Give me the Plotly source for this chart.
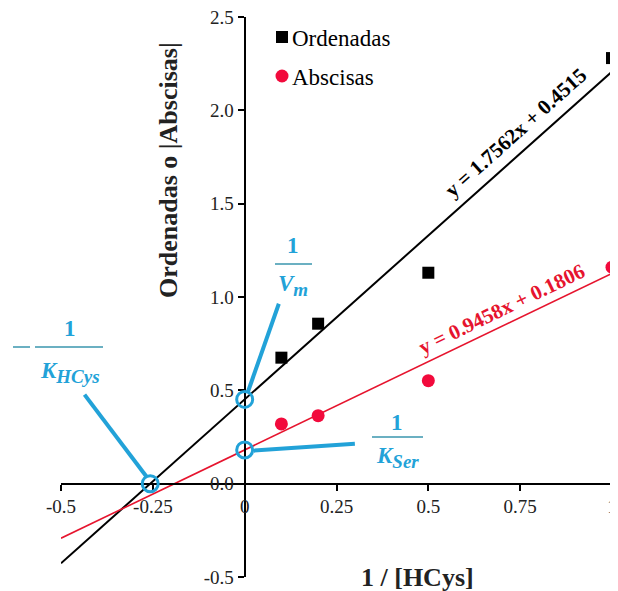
import plotly.graph_objects as go

# ---- data ----
x_vals = [0.1, 0.2, 0.5, 1.0]
ordenadas = [0.675, 0.857, 1.13, 2.28]
abscisas = [0.32, 0.364, 0.552, 1.16]
slope_ord, int_ord = 1.7562, 0.4515
slope_abs, int_abs = 0.9458, 0.1806
x_fit = [-0.5, 1.0]
x_ticks = [-0.5, -0.25, 0, 0.25, 0.5, 0.75, 1]
x_tick_text = ["-0.5", "-0.25", "0", "0.25", "0.5", "0.75", "1"]
y_ticks = [-0.5, 0.0, 0.5, 1.0, 1.5, 2.0, 2.5]
y_tick_text = ["-0.5", "0.0", "0.5", "1.0", "1.5", "2.0", "2.5"]

BLUE = "#22A2D8"
BAR = "#3A96AE"
RED = "#F20A3C"
REDL = "#E6142E"
SERIF = "Liberation Serif"

OFF = 8  # page body margin
W, H = 618, 591
ML, MR, MT, MB = 53, 14, 9, 22

fig = go.Figure()

fig.add_trace(go.Scatter(x=x_fit, y=[slope_ord * v + int_ord for v in x_fit], mode="lines",
                         line=dict(color="black", width=2), showlegend=False, hoverinfo="skip"))
fig.add_trace(go.Scatter(x=x_fit, y=[slope_abs * v + int_abs for v in x_fit], mode="lines",
                         line=dict(color=REDL, width=1.6), showlegend=False, hoverinfo="skip"))
fig.add_trace(go.Scatter(x=x_vals, y=ordenadas, mode="markers", name="Ordenadas",
                         marker=dict(symbol="square", size=12, color="black"), cliponaxis=False,
                         showlegend=False))
fig.add_trace(go.Scatter(x=x_vals, y=abscisas, mode="markers", name="Abscisas",
                         marker=dict(symbol="circle", size=13, color=RED), cliponaxis=False,
                         showlegend=False))

shapes = []
annotations = []

# intercept circles
x_int = -int_ord / slope_ord
for cx, cy in [(0, int_ord), (0, int_abs), (x_int, 0)]:
    shapes.append(dict(type="circle", xref="x", yref="y", xsizemode="pixel", ysizemode="pixel",
                       xanchor=cx, yanchor=cy, x0=-8, x1=8, y0=-8, y1=8,
                       line=dict(color=BLUE, width=3)))

# callout lines
for (x0, y0, x1, y1) in [(0.008, 0.487, 0.093, 0.964),
                         (0.025, 0.177, 0.30, 0.214),
                         (-0.267, 0.037, -0.436, 0.477)]:
    shapes.append(dict(type="line", xref="x", yref="y", x0=x0, y0=y0, x1=x1, y1=y1,
                       line=dict(color=BLUE, width=4)))

def px(xp):
    return (xp - OFF - ML) / (W - ML - MR)

def py(yp):
    return (H + OFF - MB - yp) / (H - MT - MB)

def label(xp, yp, text, size, color, bold=False, angle=0, xanchor="center"):
    annotations.append(dict(x=px(xp), y=py(yp), xref="paper", yref="paper", text=text,
                            showarrow=False, textangle=angle, xanchor=xanchor, yanchor="middle",
                            font=dict(family=SERIF, size=size, color=color)))

def fraction(cx, top_y, bar_y, bot_y, bx0, bx1, bottom_text):
    label(cx, top_y, "<b>1</b>", 23, BLUE)
    shapes.append(dict(type="line", xref="paper", yref="paper", x0=px(bx0), x1=px(bx1),
                       y0=py(bar_y), y1=py(bar_y), line=dict(color=BAR, width=1.5)))
    label(cx, bot_y, bottom_text, 23, BLUE)

def sub(main, s):
    return ("<b><i>%s</i></b><sub><span style='font-size:19px'><b><i>%s</i></b></span></sub>"
            % (main, s))

fraction(293, 245, 264, 285, 275, 312, sub("V", "m"))
fraction(397, 422, 437, 457, 372, 423, sub("K", "Ser"))
fraction(70, 328, 347, 372, 35, 103, sub("K", "HCys"))
shapes.append(dict(type="line", xref="paper", yref="paper", x0=px(13), x1=px(30),
                   y0=py(347), y1=py(347), line=dict(color=BAR, width=1.5)))

# equations
annotations.append(dict(x=0.736, y=1.88, xref="x", yref="y", text="<b>y = 1.7562x + 0.4515</b>",
                        showarrow=False, textangle=-41.8, xanchor="center", yanchor="middle",
                        font=dict(family=SERIF, size=21, color="black")))
annotations.append(dict(x=0.700, y=0.935, xref="x", yref="y", text="<b>y = 0.9458x + 0.1806</b>",
                        showarrow=False, textangle=-25.7, xanchor="center", yanchor="middle",
                        font=dict(family=SERIF, size=21, color=REDL)))

# axis titles
label(168, 170, "<b>Ordenadas o |Abscisas|</b>", 26, "#222", angle=-90)
label(417, 577, "<b>1 / [HCys]</b>", 26, "#222")

# legend
shapes.append(dict(type="rect", xref="paper", yref="paper", xsizemode="pixel", ysizemode="pixel",
                   xanchor=px(282), yanchor=py(37), x0=-6, x1=6, y0=-6, y1=6,
                   fillcolor="black", line=dict(width=0)))
shapes.append(dict(type="circle", xref="paper", yref="paper", xsizemode="pixel", ysizemode="pixel",
                   xanchor=px(282), yanchor=py(76), x0=-6.5, x1=6.5, y0=-6.5, y1=6.5,
                   fillcolor=RED, line=dict(width=0)))
label(290, 39, "Ordenadas", 23, "black", xanchor="left")
label(290, 78, "Abscisas", 23, "black", xanchor="left")

fig.update_layout(
    width=W, height=H,
    margin=dict(l=ML, r=MR, t=MT, b=MB, autoexpand=False),
    paper_bgcolor="white", plot_bgcolor="white",
    shapes=shapes, annotations=annotations,
    showlegend=False,
    xaxis=dict(range=[-0.5, 1.0], anchor="free", position=1/6, showline=True, linecolor="black",
               linewidth=2, ticks="outside", ticklen=6, tickwidth=2, tickcolor="black",
               tickvals=x_ticks, ticktext=x_tick_text, showgrid=False, zeroline=False,
               automargin=False, ticklabeloverflow="allow",
               tickfont=dict(family=SERIF, size=19, color="#222")),
    yaxis=dict(range=[-0.5, 2.5], anchor="free", position=1/3, showline=True, linecolor="black",
               linewidth=2, ticks="outside", ticklen=6, tickwidth=2, tickcolor="black",
               tickvals=y_ticks, ticktext=y_tick_text, showgrid=False, zeroline=False,
               automargin=False, ticklabeloverflow="allow",
               tickfont=dict(family=SERIF, size=19, color="#222")),
)

fig.write_html("out.html")
